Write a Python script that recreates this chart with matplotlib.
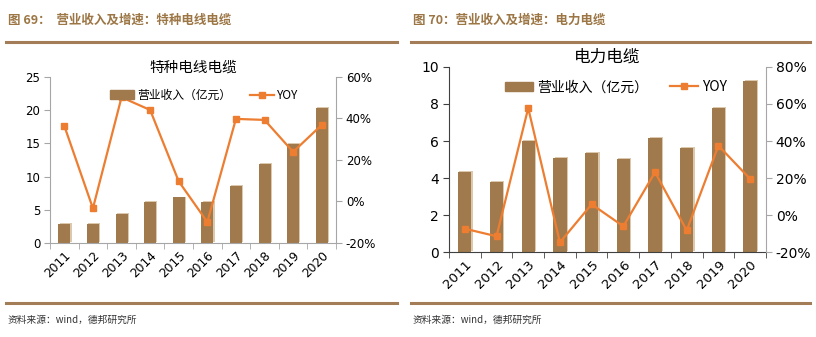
import matplotlib.pyplot as plt
import matplotlib.transforms as mtransforms
from matplotlib.ticker import FixedLocator, FuncFormatter
from matplotlib.lines import Line2D
import numpy as np

plt.rcParams['font.family'] = ['Noto Sans CJK SC', 'DejaVu Sans']

years = ['2011', '2012', '2013', '2014', '2015', '2016', '2017', '2018', '2019', '2020']

special_rev = [2.9, 2.85, 4.35, 6.2, 6.85, 6.15, 8.6, 11.95, 14.9, 20.35]
special_yoy = [36.4, -3.3, 50.2, 44.1, 9.7, -9.9, 39.8, 39.3, 23.9, 36.9]

power_rev = [4.34, 3.80, 6.02, 5.10, 5.37, 5.03, 6.18, 5.64, 7.78, 9.26]
power_yoy = [-7.4, -11.5, 57.8, -14.8, 5.8, -6.1, 23.1, -8.3, 37.5, 19.5]

BAR = '#A07A4C'
SHADOW = '#DCC8AC'
LINE = '#ED7D31'
HEAD = '#9C7645'
RULE = '#A27D58'
GRID = '#A6A6A6'

fig = plt.figure(figsize=(8.16, 3.37), dpi=100)


def panel(rect, title, rev, yoy, ylim, yticks, y2lim, y2ticks,
          tick_fs, xtick_fs, title_fs, leg_fs, leg_x, spine_col):
    ax = fig.add_axes(rect)
    x = np.arange(len(years))
    shadow = mtransforms.offset_copy(ax.transData, fig=fig, x=0.9, y=0.7, units='points')
    ax.bar(x, rev, width=0.42, color=SHADOW, transform=shadow, zorder=1)
    ax.bar(x, rev, width=0.42, color=BAR, zorder=2)
    ax.set_xlim(-0.5, len(years) - 0.5)
    ax.set_ylim(*ylim)
    ax.set_yticks(yticks)
    ax.set_xticks(x)
    ax.set_xticklabels(years, rotation=45, ha='right', rotation_mode='anchor',
                       fontsize=xtick_fs, family='DejaVu Sans')
    ax.tick_params(axis='x', length=0, pad=4)
    ax.xaxis.set_minor_locator(FixedLocator(np.arange(-0.5, len(years), 1)))
    ax.tick_params(axis='x', which='minor', length=4, color=spine_col)
    ax.tick_params(axis='y', labelsize=tick_fs, length=4, color=spine_col, pad=3)
    for lab in ax.get_yticklabels():
        lab.set_family('DejaVu Sans')
    for s in ['top', 'right']:
        ax.spines[s].set_visible(False)
    for s in ['left', 'bottom']:
        ax.spines[s].set_color(spine_col)
        ax.spines[s].set_linewidth(0.8)

    ax2 = ax.twinx()
    ax2.plot(x, yoy, color=LINE, lw=1.6, marker='s', ms=4.5, zorder=3)
    ax2.set_ylim(*y2lim)
    ax2.set_yticks(y2ticks)
    ax2.yaxis.set_major_formatter(FuncFormatter(lambda v, p: f'{v:.0f}%'))
    ax2.tick_params(axis='y', labelsize=tick_fs, length=4, color=GRID, pad=3)
    for lab in ax2.get_yticklabels():
        lab.set_family('DejaVu Sans')
    for s in ['top', 'left', 'bottom']:
        ax2.spines[s].set_visible(False)
    ax2.spines['right'].set_color(GRID)
    ax2.spines['right'].set_linewidth(0.8)

    handles = [plt.Rectangle((0, 0), 1, 1, color=BAR),
               Line2D([], [], color=LINE, lw=1.6, marker='s', ms=4.5)]
    ax2.legend(handles, ['营业收入（亿元）', 'YOY'], loc='center', ncol=2,
               bbox_to_anchor=(leg_x, 0.89), frameon=False, fontsize=leg_fs,
               handlelength=2.0, handletextpad=0.3, columnspacing=1.6)
    ax.set_title(title, fontsize=title_fs, pad=4)
    return ax


panel([0.0613, 0.279, 0.3505, 0.4926], '特种电线电缆', special_rev, special_yoy,
      (0, 25), [0, 5, 10, 15, 20, 25], (-20, 60), [-20, 0, 20, 40, 60],
      8.5, 8.8, 10.5, 8.5, 0.54, GRID)
panel([0.5502, 0.2522, 0.3885, 0.549], '电力电缆', power_rev, power_yoy,
      (0, 10), [0, 2, 4, 6, 8, 10], (-20, 80), [-20, 0, 20, 40, 60, 80],
      10, 9.5, 12, 10, 0.527, '#404040')

# headers, rules and source notes
for x0, x1, head in [(6, 397, '图 69：  营业收入及增速：特种电线电缆'),
                     (411, 810, '图 70：营业收入及增速：电力电缆')]:
    fig.text((x0 + 2) / 816, 1 - 20 / 337, head, fontsize=9, weight='bold',
             color=HEAD, va='center', ha='left')
    fig.add_artist(Line2D([x0 / 816, x1 / 816], [1 - 42 / 337] * 2, color=RULE, lw=2.2))
    fig.add_artist(Line2D([x0 / 816, x1 / 816], [1 - 303 / 337] * 2, color=RULE, lw=2.2))
    fig.text((x0 + 2) / 816, 1 - 320 / 337, '资料来源：wind，德邦研究所', fontsize=7,
             color='#333333', va='center', ha='left')

fig.savefig('out.png', dpi=100)
